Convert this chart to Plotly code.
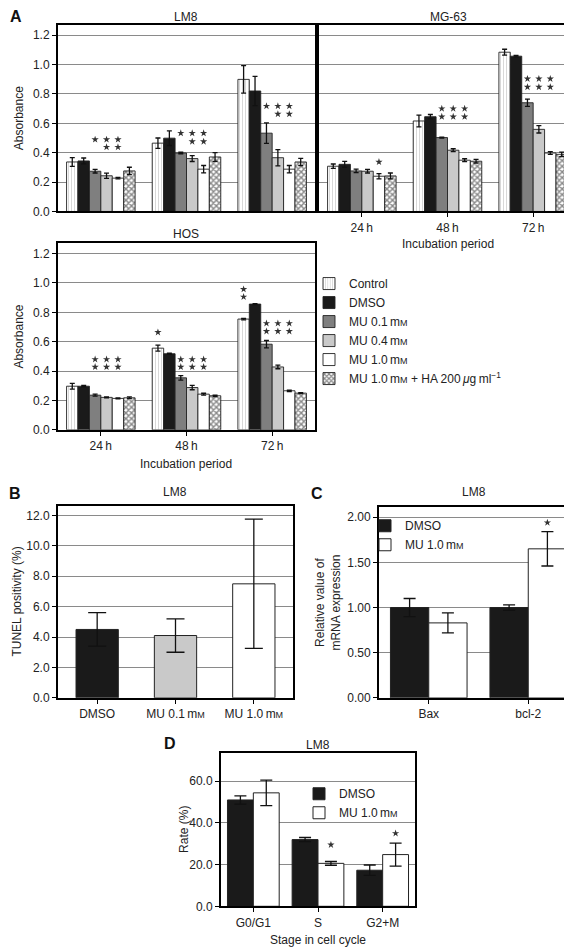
import plotly.graph_objects as go

W, H = 572, 947
FONT = "Liberation Sans, Arial, sans-serif"
MM = "m<span style='font-size:9px'>M</span>"

# ---------------- data ----------------
periods = ["24\u2009h", "48\u2009h", "72\u2009h"]
series_names = ["Control", "DMSO", "MU 0.1\u2009" + MM, "MU 0.4\u2009" + MM,
                "MU 1.0\u2009" + MM, "MU 1.0\u2009" + MM + " + HA 200\u2009<i>\u03bc</i>g\u2009ml<sup>\u22121</sup>"]

# LM8 absorbance (rows = series, cols = periods)
lm8_control = [0.337, 0.465, 0.899]
lm8_dmso = [0.344, 0.499, 0.820]
lm8_mu01 = [0.274, 0.398, 0.533]
lm8_mu04 = [0.243, 0.360, 0.366]
lm8_mu10 = [0.227, 0.288, 0.288]
lm8_ha = [0.276, 0.371, 0.337]
lm8_err = [[0.03, 0.035, 0.093], [0.02, 0.05, 0.10], [0.012, 0.005, 0.07],
           [0.018, 0.02, 0.055], [0.005, 0.025, 0.025], [0.025, 0.03, 0.025]]

mg63_control = [0.308, 0.616, 1.084]
mg63_dmso = [0.321, 0.645, 1.057]
mg63_mu01 = [0.276, 0.503, 0.740]
mg63_mu04 = [0.274, 0.417, 0.559]
mg63_mu10 = [0.240, 0.349, 0.398]
mg63_ha = [0.242, 0.342, 0.389]
mg63_err = [[0.015, 0.04, 0.02], [0.02, 0.015, 0.005], [0.012, 0.003, 0.025],
            [0.012, 0.01, 0.025], [0.018, 0.01, 0.01], [0.02, 0.012, 0.015]]

hos_control = [0.297, 0.556, 0.754]
hos_dmso = [0.297, 0.518, 0.856]
hos_mu01 = [0.236, 0.354, 0.583]
hos_mu04 = [0.221, 0.288, 0.428]
hos_mu10 = [0.214, 0.243, 0.266]
hos_ha = [0.218, 0.232, 0.250]
hos_err = [[0.02, 0.02, 0.005], [0.005, 0.004, 0.003], [0.007, 0.015, 0.025],
           [0.004, 0.015, 0.012], [0.003, 0.006, 0.005], [0.006, 0.005, 0.004]]

# significance stars: (period index, series index, y value)
lm8_stars = [(0, 2, 0.49), (0, 3, 0.49), (0, 4, 0.49), (0, 3, 0.438), (0, 4, 0.438),
             (1, 2, 0.533), (1, 3, 0.533), (1, 4, 0.533), (1, 3, 0.476), (1, 4, 0.476),
             (2, 2, 0.717), (2, 3, 0.717), (2, 4, 0.717), (2, 3, 0.663), (2, 4, 0.663)]
mg63_stars = [(0, 4, 0.337),
              (1, 2, 0.70), (1, 3, 0.70), (1, 4, 0.70), (1, 2, 0.645), (1, 3, 0.645), (1, 4, 0.645),
              (2, 2, 0.903), (2, 3, 0.903), (2, 4, 0.903), (2, 2, 0.847), (2, 3, 0.847), (2, 4, 0.847)]
hos_stars = [(0, 2, 0.48), (0, 3, 0.48), (0, 4, 0.48), (0, 2, 0.428), (0, 3, 0.428), (0, 4, 0.428),
             (1, 0, 0.664),
             (1, 2, 0.48), (1, 3, 0.48), (1, 4, 0.48), (1, 2, 0.428), (1, 3, 0.428), (1, 4, 0.428),
             (2, 0, 0.957), (2, 0, 0.905),
             (2, 2, 0.725), (2, 3, 0.725), (2, 4, 0.725), (2, 2, 0.671), (2, 3, 0.671), (2, 4, 0.671)]

# Panel B
tunel_groups = ["DMSO", "MU 0.1\u2009" + MM, "MU 1.0\u2009" + MM]
tunel_values = [4.5, 4.1, 7.5]
tunel_err = [1.1, 1.1, 4.25]

# Panel C
genes = ["Bax", "bcl-2"]
mrna_dmso = [1.00, 1.00]
mrna_dmso_err = [0.10, 0.03]
mrna_mu = [0.83, 1.65]
mrna_mu_err = [0.11, 0.19]
mrna_stars = [(1, 1, 1.94)]

# Panel D
stages = ["G0/G1", "S", "G2+M"]
cycle_dmso = [51.0, 32.0, 17.3]
cycle_dmso_err = [2.0, 1.0, 2.5]
cycle_mu = [54.4, 20.6, 24.8]
cycle_mu_err = [6.1, 0.9, 5.5]
cycle_stars = [(1, 1, 29.5), (2, 1, 35.0)]

# ---------------- helpers ----------------
def dx(a, b):
    return [a / W, b / W]

def dy(top, bottom):
    return [1 - bottom / H, 1 - top / H]

def px(x):
    return x / W

def py(y):
    return 1 - y / H

fig = go.Figure()
annotations = []

STAR = dict(symbol="star", size=5.5, color="#333333", line=dict(width=0))

def add_stars(stars, group_w, n, xa, ya):
    bw = group_w / n
    xs = [c - group_w / 2 + (s + 0.5) * bw for (c, s, _) in stars]
    ys = [v for (_, _, v) in stars]
    fig.add_trace(go.Scatter(x=xs, y=ys, mode="markers", marker=STAR, xaxis=xa, yaxis=ya,
                             showlegend=False, hoverinfo="skip"))

fills = ["white", "#1a1a1a", "#7f7f7f", "#c9c9c9", "white", "white"]
patterns = [dict(shape="|", fgcolor="#a8a8a8", size=3, solidity=0.3),
            None, None, None, None,
            dict(shape="x", fgcolor="#111111", size=4, solidity=0.6)]

A_panels = [
    ([lm8_control, lm8_dmso, lm8_mu01, lm8_mu04, lm8_mu10, lm8_ha], lm8_err, lm8_stars, "x", "y"),
    ([mg63_control, mg63_dmso, mg63_mu01, mg63_mu04, mg63_mu10, mg63_ha], mg63_err, mg63_stars, "x2", "y2"),
    ([hos_control, hos_dmso, hos_mu01, hos_mu04, hos_mu10, hos_ha], hos_err, hos_stars, "x3", "y3"),
]

NA = 6
GA = 0.8
bwA = GA / NA
pidx = list(range(len(periods)))

for p, (vals, errs, stars, xa, ya) in enumerate(A_panels):
    for i in range(NA):
        mk = dict(color=fills[i], line=dict(color="#222222", width=0.9))
        if patterns[i] is not None:
            pt = dict(patterns[i]); pt["bgcolor"] = "white"
            mk["pattern"] = pt
        fig.add_trace(go.Bar(
            x=pidx, y=vals[i], name=series_names[i],
            error_y=dict(type="data", array=errs[i], color="#111111", thickness=1.3, width=2.5),
            marker=mk, width=bwA, offset=-GA / 2 + i * bwA,
            xaxis=xa, yaxis=ya, showlegend=(p == 0), legend="legend"))
    add_stars(stars, GA, NA, xa, ya)

# Panel B
fig.add_trace(go.Bar(x=list(range(len(tunel_groups))), y=tunel_values, width=0.54,
                     marker=dict(color=["#1a1a1a", "#c9c9c9", "white"], line=dict(color="#222", width=1)),
                     error_y=dict(type="data", array=tunel_err, color="#111", thickness=1.3, width=9),
                     xaxis="x4", yaxis="y4", showlegend=False))

# Panel C
wC = 0.385
gidx = list(range(len(genes)))
fig.add_trace(go.Bar(x=gidx, y=mrna_dmso, name="DMSO", width=wC, offset=-wC,
                     marker=dict(color="#1a1a1a", line=dict(color="#222", width=1)),
                     error_y=dict(type="data", array=mrna_dmso_err, color="#111", thickness=1.3, width=6),
                     xaxis="x5", yaxis="y5", legend="legend2"))
fig.add_trace(go.Bar(x=gidx, y=mrna_mu, name="MU 1.0\u2009" + MM, width=wC, offset=0,
                     marker=dict(color="white", line=dict(color="#222", width=1)),
                     error_y=dict(type="data", array=mrna_mu_err, color="#111", thickness=1.3, width=6),
                     xaxis="x5", yaxis="y5", legend="legend2"))
add_stars(mrna_stars, 2 * wC, 2, "x5", "y5")

# Panel D
wD = 0.4
sidx = list(range(len(stages)))
fig.add_trace(go.Bar(x=sidx, y=cycle_dmso, name="DMSO", width=wD, offset=-wD,
                     marker=dict(color="#1a1a1a", line=dict(color="#222", width=1)),
                     error_y=dict(type="data", array=cycle_dmso_err, color="#111", thickness=1.3, width=6),
                     xaxis="x6", yaxis="y6", legend="legend3"))
fig.add_trace(go.Bar(x=sidx, y=cycle_mu, name="MU 1.0\u2009" + MM, width=wD, offset=0,
                     marker=dict(color="white", line=dict(color="#222", width=1)),
                     error_y=dict(type="data", array=cycle_mu_err, color="#111", thickness=1.3, width=6),
                     xaxis="x6", yaxis="y6", legend="legend3"))
add_stars(cycle_stars, 2 * wD, 2, "x6", "y6")

# ---------------- axes ----------------
def xax(dom, anchor, labels_list, labels=True, ticks=True):
    n = len(labels_list)
    return dict(domain=dom, anchor=anchor, showline=True, mirror=True, linecolor="black", linewidth=2,
                ticks="outside" if ticks else "", ticklen=4, tickcolor="black",
                tickmode="array", tickvals=list(range(n)), ticktext=labels_list,
                range=[-0.5, n - 0.5],
                showticklabels=labels, showgrid=False, zeroline=False,
                tickfont=dict(size=12, color="#222"))

def yax(dom, anchor, rng, dtick, fmt, labels=True, ticks=True):
    return dict(domain=dom, anchor=anchor, range=rng, dtick=dtick, tickformat=fmt,
                showline=True, mirror=True, linecolor="black", linewidth=2,
                ticks="outside" if ticks else "", ticklen=4, tickcolor="black",
                showticklabels=labels, showgrid=True, gridcolor="#8a8a8a", gridwidth=1,
                zeroline=False, tickfont=dict(size=12, color="#222"))

layout = dict(
    width=W, height=H, margin=dict(l=0, r=0, t=0, b=0), autosize=False,
    paper_bgcolor="white", plot_bgcolor="white", barmode="overlay",
    font=dict(family=FONT, size=12, color="#222"),
    xaxis=xax(dx(50, 307), "y", periods, labels=False, ticks=False),
    yaxis=yax(dy(17, 205), "x", [0, 1.27], 0.2, ".1f"),
    xaxis2=xax(dx(311, 568), "y2", periods),
    yaxis2=yax(dy(17, 205), "x2", [0, 1.27], 0.2, ".1f", labels=False, ticks=False),
    xaxis3=xax(dx(50, 307), "y3", periods),
    yaxis3=yax(dy(237, 425), "x3", [0, 1.27], 0.2, ".1f"),
    xaxis4=xax(dx(50, 285), "y4", tunel_groups),
    yaxis4=yax(dy(502, 695), "x4", [0, 12.6], 2, ".1f"),
    xaxis5=xax(dx(371, 570), "y5", genes),
    yaxis5=yax(dy(503, 695), "x5", [0, 2.11], 0.5, ".2f"),
    xaxis6=xax(dx(213, 407), "y6", stages),
    yaxis6=yax(dy(751, 905), "x6", [0, 73.3], 20, ".1f"),
    legend=dict(x=px(301), y=py(263), xanchor="left", yanchor="top", bgcolor="rgba(0,0,0,0)",
                font=dict(size=12, color="#222"), tracegroupgap=0, itemwidth=30),
    legend2=dict(x=px(357), y=py(507), xanchor="left", yanchor="top", bgcolor="rgba(0,0,0,0)",
                 font=dict(size=12, color="#222"), itemwidth=30),
    legend3=dict(x=px(291), y=py(777), xanchor="left", yanchor="top", bgcolor="rgba(0,0,0,0)",
                 font=dict(size=12, color="#222"), itemwidth=30),
)

def txt(x, y, t, size=12, bold=False, angle=0):
    return dict(x=px(x), y=py(y), xref="paper", yref="paper", text=("<b>%s</b>" % t) if bold else t,
                showarrow=False, xanchor="center", yanchor="middle", textangle=angle,
                font=dict(size=size, color="#111" if bold else "#222"))

annotations += [
    txt(8, 9, "A", 16, True), txt(7, 489, "B", 16, True), txt(309, 489, "C", 16, True), txt(162, 741, "D", 16, True),
    txt(178, 9, "LM8"), txt(440, 9, "MG-63"), txt(178, 228, "HOS"),
    txt(167, 488, "LM8"), txt(466, 488, "LM8"), txt(310, 742, "LM8"),
    txt(11, 111, "Absorbance", angle=-90), txt(11, 331, "Absorbance", angle=-90),
    txt(440, 238, "Incubation period"), txt(178, 459, "Incubation period"),
    txt(9, 598, "TUNEL positivity (%)", angle=-90),
    txt(320, 599, "Relative value of<br>mRNA expression", angle=-90),
    txt(176, 828, "Rate (%)", angle=-90),
    txt(310, 939, "Stage in cell cycle"),
]
layout["annotations"] = annotations
fig.update_layout(**layout)
fig.write_html("out.html")
